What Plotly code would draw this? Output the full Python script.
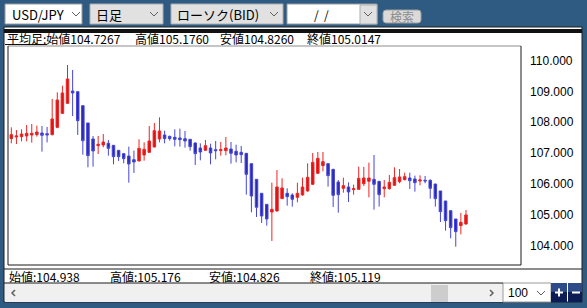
import plotly.graph_objects as go

# ---------------- data ----------------
opens = [107.466, 107.521, 107.531, 107.553, 107.586, 107.596, 107.651, 107.629, 107.596, 107.835,
         108.290, 108.615, 109.016, 108.994, 108.539, 107.976, 107.456, 107.239, 107.261, 107.315,
         107.250, 107.087, 106.979, 106.903, 106.784, 106.741, 106.936, 107.022, 107.196, 107.456,
         107.586, 107.542, 107.510, 107.488, 107.466, 107.445, 107.326, 107.163, 107.087, 107.163,
         107.109, 107.076, 107.076, 107.131, 107.055, 107.022, 106.990, 106.654, 106.145, 105.690,
         105.332, 105.083, 105.116, 105.516, 105.690, 105.636, 105.560, 105.636, 105.766, 105.982,
         106.340, 106.589, 106.654, 106.470, 106.058, 105.852, 105.896, 105.809, 105.820, 106.004,
         106.080, 106.145, 106.080, 105.841, 105.841, 105.950, 106.069, 106.134, 106.188, 106.156,
         106.091, 106.112, 106.112, 105.993, 105.766, 105.441, 105.126, 104.856, 104.639, 104.693]
highs = [107.835, 107.748, 107.770, 107.911, 107.943, 107.889, 107.878, 107.846, 108.756, 108.972,
         109.189, 109.861, 109.698, 108.994, 108.539, 107.976, 107.553, 107.553, 107.618, 107.423,
         107.250, 107.087, 107.001, 107.206, 107.076, 107.445, 107.347, 107.878, 107.976, 108.160,
         107.726, 107.564, 107.770, 107.791, 107.716, 107.456, 107.347, 107.315, 107.423, 107.304,
         107.391, 107.358, 107.521, 107.358, 107.271, 107.228, 106.990, 106.654, 106.145, 105.690,
         105.332, 106.036, 106.448, 106.177, 105.852, 105.690, 106.036, 106.199, 106.665, 107.001,
         107.033, 107.033, 106.665, 106.481, 106.123, 106.199, 106.047, 105.971, 106.556, 106.546,
         106.687, 106.936, 106.091, 106.123, 106.286, 106.535, 106.481, 106.361, 106.361, 106.264,
         106.275, 106.253, 106.145, 105.993, 105.766, 105.441, 105.126, 104.856, 105.051, 105.148]
lows = [107.315, 107.293, 107.380, 107.380, 107.336, 107.531, 107.044, 107.347, 107.575, 107.802,
        108.268, 108.593, 108.203, 107.586, 106.946, 106.535, 106.556, 106.968, 107.185, 106.914,
        106.632, 106.741, 106.665, 106.036, 106.351, 106.730, 106.751, 107.001, 107.185, 107.347,
        107.315, 107.401, 107.217, 107.206, 107.174, 107.076, 106.611, 106.762, 107.076, 106.632,
        106.795, 106.914, 106.925, 106.654, 106.697, 106.676, 105.646, 105.072, 104.921, 104.726,
        104.639, 104.141, 105.094, 105.506, 105.289, 105.257, 105.397, 105.614, 105.744, 105.961,
        106.329, 106.405, 105.906, 105.246, 105.061, 105.711, 105.408, 105.647, 105.809, 105.928,
        105.560, 105.159, 105.257, 105.560, 105.809, 105.939, 106.015, 106.112, 105.831, 105.744,
        105.950, 106.015, 105.516, 105.257, 104.758, 104.477, 104.227, 103.956, 104.357, 104.671]
closes = [107.596, 107.553, 107.618, 107.640, 107.640, 107.683, 107.575, 107.586, 108.106, 108.723,
          108.951, 109.406, 108.951, 108.051, 107.401, 106.914, 107.066, 107.282, 107.358, 107.152,
          106.881, 106.881, 106.816, 106.643, 106.708, 107.152, 107.120, 107.391, 107.726, 107.716,
          107.466, 107.466, 107.445, 107.434, 107.391, 107.206, 106.979, 107.033, 107.239, 107.001,
          107.076, 107.109, 107.163, 106.990, 106.936, 106.946, 106.307, 105.603, 105.235, 104.953,
          104.856, 105.170, 105.896, 105.863, 105.581, 105.495, 105.690, 105.896, 106.210, 106.697,
          106.827, 106.719, 106.264, 105.625, 105.647, 105.939, 105.733, 105.841, 106.177, 106.188,
          106.188, 105.982, 105.647, 105.896, 106.047, 106.199, 106.221, 106.232, 106.101, 106.036,
          106.123, 106.091, 105.852, 105.516, 105.094, 104.802, 104.574, 104.444, 104.747, 104.986]
bar_index = list(range(len(opens)))

tick_values = [104, 105, 106, 107, 108, 109, 110]

toolbar_labels = ["USD/JPY", "日足", "ローソク(BID)", "/  /", "検索"]
header_texts = ["平均足:始値104.7267", "高値105.1760", "安値104.8260", "終値105.0147"]
footer_texts = ["始値:104.938", "高値:105.176", "安値:104.826", "終値:105.119"]
zoom_label = "100"

# ---------------- layout helpers ----------------
W, H = 587, 308
L, R, T, B = 8, 521, 46, 265
BLUE = "#2f5a82"
CJK = "Noto Sans CJK JP"


def px(x):
    return (x - L) / (R - L)


def py(y):
    return (B - y) / (B - T)


shapes = []
annotations = []


def rect(x0, y0, x1, y1, fill=None, line=None, lw=1, layer="below"):
    shapes.append(dict(type="rect", xref="paper", yref="paper",
                       x0=px(x0), x1=px(x1), y0=py(y1), y1=py(y0),
                       fillcolor=fill if fill else "rgba(0,0,0,0)",
                       line=dict(color=line if line else "rgba(0,0,0,0)", width=lw if line else 0),
                       layer=layer))


def seg(x0, y0, x1, y1, color, lw=1, layer="above"):
    shapes.append(dict(type="line", xref="paper", yref="paper",
                       x0=px(x0), x1=px(x1), y0=py(y0), y1=py(y1),
                       line=dict(color=color, width=lw), layer=layer))


def poly(points, color, lw=1, layer="above"):
    d = "M " + " L ".join(f"{px(a):.5f},{py(b):.5f}" for a, b in points)
    shapes.append(dict(type="path", xref="paper", yref="paper", path=d,
                       line=dict(color=color, width=lw), layer=layer))


def text(x, y, s, size=12, color="#000", anchor="left", font=CJK):
    annotations.append(dict(xref="paper", yref="paper", x=px(x), y=py(y), text=s,
                            showarrow=False, xanchor=anchor, yanchor="middle",
                            font=dict(family=font, size=size, color=color)))


def chevron(cx, cy, color="#606060"):
    poly([(cx - 4, cy - 2), (cx, cy + 2), (cx + 4, cy - 2)], color, 1)


# white working area
rect(4, 27, 582, 302, fill="#ffffff", line="#1e1e1e", lw=1)
# black band under toolbar
rect(4, 29, 582, 33, fill="#111111")

# toolbar dropdowns
rect(5, 4, 82, 24, fill="#ffffff", line="#9a9a9a")
text(10, 14.5, toolbar_labels[0], size=13)
chevron(76, 14)
rect(90, 4, 163, 24, fill="#e1e1e1", line="#adadad")
text(94, 14.5, toolbar_labels[1], size=13)
chevron(154, 14)
rect(171, 4, 283, 24, fill="#e1e1e1", line="#adadad")
text(175, 14.5, toolbar_labels[2], size=13)
chevron(274, 14)
rect(287, 4, 377, 24, fill="#ffffff", line="#9a9a9a")
rect(360, 5, 377, 24, fill="#e1e1e1", line="#adadad")
text(321, 14.5, toolbar_labels[3], size=12, anchor="center")
chevron(368, 14)
shapes.append(dict(type="path", xref="paper", yref="paper",
                   path=("M {a},{b} L {c},{b} Q {d},{b} {d},{e} L {d},{f} Q {d},{g} {c},{g} "
                         "L {a},{g} Q {h},{g} {h},{f} L {h},{e} Q {h},{b} {a},{b} Z").format(
                       a=px(386), c=px(418), d=px(421), h=px(383),
                       b=py(10), e=py(13), f=py(20), g=py(23)),
                   fillcolor="#dadada", line=dict(color="#9c9c9c", width=1), layer="below"))
text(402, 16.5, toolbar_labels[4], size=12, color="#8c8c8c", anchor="center")

# header row
hx = [5, 133, 218, 305]
for xx, s in zip(hx, header_texts):
    text(xx, 39, s, size=12)
seg(5, 44.5, 47, 44.5, "#111111", 1)

# chart panel border
seg(L, T, R, T, "#8c8c8c", 1)
seg(L, T, L, B, "#1a1a1a", 1)
seg(L, B, R, B, "#1a1a1a", 1)
seg(R, T, R, B, "#1a1a1a", 1)

# footer row
seg(4, 269, 582, 269, "#1a1a1a", 1)
fx = [7, 108, 207, 308]
for xx, s in zip(fx, footer_texts):
    text(xx, 276, s, size=12)

# scrollbar
rect(5, 283, 503, 302, fill="#f0f0f0")
seg(4, 283, 503, 283, "#1a1a1a", 1)
poly([(15, 290), (12, 293), (15, 296)], "#606060", 1.5)
poly([(490, 290), (493, 293), (490, 296)], "#606060", 1.5)
rect(431, 285, 448, 302, fill="#cdcdcd")
rect(503, 283, 551, 302, fill="#ffffff", line="#9a9a9a")
text(506, 292.5, zoom_label, size=12, font="Liberation Sans")
chevron(541, 293)
for bx0, bx1 in [(551, 567), (568, 582)]:
    rect(bx0, 283, bx1, 292, fill="#2d4b88")
    rect(bx0, 292, bx1, 302, fill="#0c1c55")
seg(555, 292.5, 563, 292.5, "#ffffff", 2)
seg(559, 288.5, 559, 296.5, "#ffffff", 2)
seg(572, 292.5, 580, 292.5, "#ffffff", 2)

# ---------------- figure ----------------
fig = go.Figure(go.Candlestick(
    x=bar_index, open=opens, high=highs, low=lows, close=closes,
    increasing=dict(line=dict(color="#ee2424", width=1), fillcolor="#d81414"),
    decreasing=dict(line=dict(color="#4646d8", width=1), fillcolor="#2a2aae"),
    whiskerwidth=0, hoverinfo="skip",
))

fig.update_layout(
    width=W, height=H,
    margin=dict(l=L, r=W - R, t=T, b=H - B, pad=0),
    paper_bgcolor=BLUE, plot_bgcolor="#ffffff",
    showlegend=False,
    shapes=shapes, annotations=annotations,
    xaxis=dict(range=[-0.65, 99.77], showticklabels=False, showgrid=False,
               zeroline=False, showline=False, ticks="", rangeslider=dict(visible=False),
               fixedrange=True),
    yaxis=dict(range=[103.36, 110.478], side="right", tickvals=tick_values,
               tickformat=".3f", showgrid=False, zeroline=False, showline=False,
               ticks="", ticklabelstandoff=8,
               tickfont=dict(family="Liberation Sans", size=12, color="#000"),
               fixedrange=True),
)

fig.write_html("out.html")
